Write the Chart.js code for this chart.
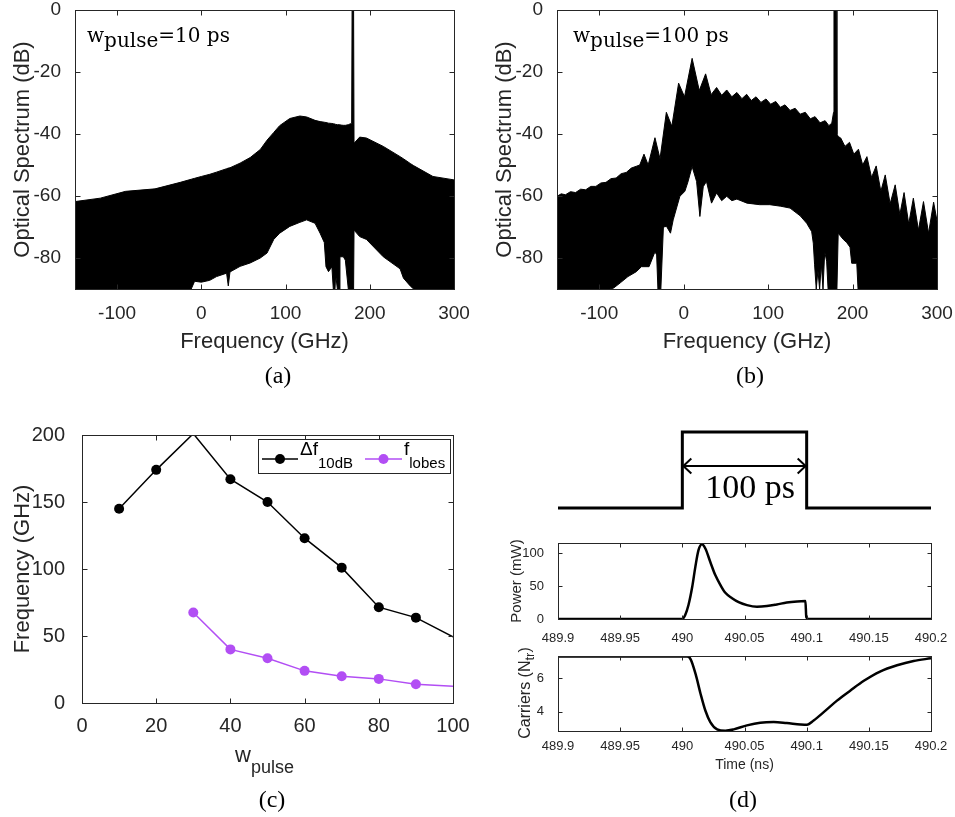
<!DOCTYPE html>
<html>
<head>
<meta charset="utf-8">
<script src="https://cdn.jsdelivr.net/npm/chart.js@4.4.1/dist/chart.umd.min.js"></script>
<style>
  html, body { margin: 0; padding: 0; background: #fff; }
  #page { position: relative; width: 955px; height: 817px; overflow: hidden; }
  #page canvas { position: absolute; left: 0; top: 0; }
  .plabel { position: absolute; font-family: "Liberation Serif", serif; font-size: 24px; line-height: 1; color: #000; transform: translate(-50%, -50%); }
</style>
</head>
<body>
<div id="page">
  <canvas id="chartA" width="955" height="817"></canvas>
  <canvas id="chartB" width="955" height="817"></canvas>
  <canvas id="chartC" width="955" height="817"></canvas>
  <canvas id="chartPulse" width="955" height="817"></canvas>
  <canvas id="chartPower" width="955" height="817"></canvas>
  <canvas id="chartCarriers" width="955" height="817"></canvas>
  <div class="plabel" style="left:278px;top:375px">(a)</div>
  <div class="plabel" style="left:750px;top:375px">(b)</div>
  <div class="plabel" style="left:272px;top:799px">(c)</div>
  <div class="plabel" style="left:743px;top:799px">(d)</div>
</div>
<script>
// ---- (a) spectrum, w_pulse = 10 ps (upper / lower envelope of the dense trace)
const specA_freq = [-150, -120, -90, -55, -25, -12, -8, 0, 10, 18, 30, 32, 34, 46, 58, 70, 78, 86, 93, 105, 117, 125, 135, 141, 146, 148, 151, 155, 156.7, 158.7, 159.5, 161.5, 163.8, 164.6, 168.6, 171, 174.5, 177, 178.5, 179, 180.8, 181.3, 188, 196, 216, 236, 240, 248, 252, 275, 300];
const specA_upper = [-61.8, -60.7, -58.5, -57.7, -55.6, -54.6, -54.3, -53.7, -53, -52.3, -51.2, -51, -50.9, -49.4, -47.6, -45, -42, -39.5, -37.3, -35, -34.2, -34.5, -35.6, -36, -36.2, -36.3, -36.5, -36.6, -36.7, -36.8, -36.9, -37, -37, -37.1, -37.2, -37.2, -37, -36.7, -36.5, 0, 0, -43, -41, -41.3, -44, -47.3, -48, -49.5, -50.2, -53.7, -54.8];
const specA_lower = [-90, -90, -90, -90, -90, -90, -87.5, -87.8, -87.2, -86, -84.9, -89, -84.5, -82.7, -81.6, -80, -78.4, -74, -72, -69.8, -68.5, -67.7, -68.8, -72, -75, -82.8, -84.4, -82.8, -90, -90, -85.3, -90, -90, -79.6, -79.6, -80.7, -90, -90, -90, -90, -90, -71, -73.1, -74, -79.6, -83.5, -86.5, -89, -90, -90, -90];

// ---- (b) spectrum, w_pulse = 100 ps
const specB_freqUp = [-150, -145, -140, -134, -128, -122, -116, -110, -104, -98, -92, -86, -80, -74, -68, -62, -56, -52, -47, -42, -34, -28, -20.5, -14, -6, 1, 10, 18.5, 26, 32.5, 39, 45, 51, 57, 63, 69, 74.6, 80, 85.7, 91.5, 97.5, 103, 109, 114.5, 120, 126, 132, 138, 144, 150, 155.6, 161.5, 167.5, 172, 175.4, 177.5, 178, 180.5, 181.5, 183, 186, 191, 196.4, 201.5, 207, 212, 217, 222.5, 228, 233.5, 238.7, 244.5, 250.5, 256, 261, 266.5, 272, 278, 284, 290, 296, 300];
const specB_upper = [-60.1, -59.3, -59.6, -58.6, -58.9, -57.8, -58, -56.9, -56.9, -55.8, -55.6, -54.4, -54.2, -52.8, -52.4, -51, -50.4, -50, -46.5, -50, -41.2, -48, -33, -37.5, -23.6, -28, -15.6, -26, -20.6, -27.3, -25, -27.5, -25.8, -28, -26.6, -28.6, -27.2, -29.2, -28, -29.8, -28.7, -30.4, -29.5, -31.4, -30.6, -32.4, -31.7, -33.6, -33, -35.1, -34.4, -36.4, -35.7, -37.3, -36.5, -33, 0, 0, -40, -40.8, -41.3, -44, -42.7, -46.5, -44.9, -50, -47.3, -54, -50.3, -58.5, -53.2, -62.5, -56.4, -66, -58.9, -69, -60.7, -71, -61.8, -72, -62, -68];
const specB_freqLo = [-150, -87, -83, -75, -66, -56, -50, -41, -34, -32, -30.5, -27, -24, -20.3, -15.6, -12.4, -4.5, 1.4, 5, 10, 15.3, 19.2, 23.2, 27, 33, 39, 45, 51, 57, 63, 75, 90, 102, 115, 126, 138, 145.7, 151.6, 153.5, 155, 157, 159, 161, 163, 165, 167, 169.3, 171, 177.5, 181.5, 183, 189, 193, 197, 199, 205, 206.5, 210, 300];
const specB_lower = [-90, -90, -89.7, -88, -86, -84.4, -82.8, -82.8, -78, -79, -90, -90, -70, -69.8, -72, -67.7, -60.1, -58.5, -55.5, -50.5, -55.3, -66.6, -57, -55.3, -62.3, -59, -61.5, -60.1, -61.5, -61, -62.3, -62.8, -62.8, -63.3, -63.9, -66.4, -68.8, -71.5, -75.2, -82, -90, -84, -90, -82, -90, -78, -81, -90, -90, -90, -72, -74, -75, -76.5, -81.7, -81.7, -90, -90, -90];

const specFreqTicks = [-100, 0, 100, 200, 300];
const specDbTicks = [-80, -60, -40, -20, 0];

// ---- (c) bandwidth vs pulse width
const wPulse = [10, 20, 30, 40, 50, 60, 70, 80, 90, 100];
const df10dB = [145, 174, 201, 167, 150, 123, 101, 71.5, 63.7, 49.3];
const fLobes = [null, null, 67.5, 40, 33.4, 24, 20, 18, 14, 12.5];
const wTicks = [0, 20, 40, 60, 80, 100];
const freqTicksC = [0, 50, 100, 150, 200];

// ---- (d) pulse, output power and carriers
const pulseTime = [489.9, 490, 490, 490.1, 490.1, 490.2];
const pulseLevel = [0, 0, 1, 1, 0, 0];
const arrowTime = [490, 490.1];
const arrowLevel = [0.553, 0.553];

const timeP = [489.9, 490.0, 490.0024, 490.005, 490.008, 490.0105, 490.013, 490.0158, 490.0185, 490.0225, 490.0265, 490.0306, 490.0346, 490.04, 490.0453, 490.052, 490.06, 490.068, 490.076, 490.084, 490.0923, 490.099, 490.0997, 490.1016, 490.2];
const powerMW = [0, 0, 6.6, 21.7, 49.5, 80, 105, 114, 107.6, 87, 67, 52, 40, 31.8, 25.8, 21.2, 18.7, 19.7, 22.2, 25.2, 26.8, 27.3, 3, 0, 0];

const timeC = [489.9, 490.004, 490.0067, 490.0107, 490.0147, 490.0185, 490.0225, 490.028, 490.0346, 490.0413, 490.052, 490.0627, 490.0735, 490.084, 490.095, 490.1003, 490.1056, 490.1137, 490.1244, 490.135, 490.146, 490.159, 490.1727, 490.186, 490.2];
const carriersNtr = [7.33, 7.33, 7.16, 6.26, 5.06, 4.06, 3.36, 2.92, 2.84, 2.92, 3.16, 3.32, 3.36, 3.3, 3.22, 3.2, 3.46, 3.96, 4.66, 5.26, 5.86, 6.42, 6.8, 7.06, 7.22];

const timeTicks = [489.9, 489.95, 490, 490.05, 490.1, 490.15, 490.2];
const powerTicks = [0, 50, 100];
const carrierTicks = [4, 6];

const SANS = '"Liberation Sans", Arial, sans-serif';
const AXIS = '#262626';
const PURPLE = '#b24ef4';

function pts(xs, ys) {
    return xs.map((x, i) => ({ x: x, y: ys[i] }));
}

// Linear axis with fixed thickness and explicit tick values
function axis(o) {
    return {
        type: 'linear',
        position: o.pos,
        min: o.min,
        max: o.max,
        grid: { display: false },
        border: { display: false },
        afterBuildTicks: s => { s.ticks = o.ticks.map(v => ({ value: v })); },
        afterFit: s => {
            if (o.pos === 'left') s.width = o.size; else s.height = o.size;
            s.paddingLeft = 0; s.paddingRight = 0; s.paddingTop = 0; s.paddingBottom = 0;
        },
        ticks: {
            color: AXIS,
            font: { family: SANS, size: o.fs },
            padding: o.pad,
            autoSkip: false,
            maxRotation: 0,
            minRotation: 0,
            callback: o.fmt || (v => String(v))
        },
        title: o.title
            ? { display: true, text: o.title, color: AXIS, font: { family: SANS, size: o.tfs }, padding: 0 }
            : { display: false }
    };
}

// Draw a run of text pieces (for subscripts)
function drawRich(ctx, item) {
    ctx.save();
    ctx.translate(item.x, item.y);
    if (item.rot) ctx.rotate(item.rot);
    ctx.fillStyle = item.color || '#000';
    ctx.textBaseline = 'alphabetic';
    ctx.textAlign = 'left';
    let total = 0;
    item.parts.forEach(p => { ctx.font = p.font; total += ctx.measureText(p.t).width; });
    let x = item.align === 'center' ? -total / 2 : 0;
    item.parts.forEach(p => {
        ctx.font = p.font;
        ctx.fillText(p.t, x, p.dy || 0);
        x += ctx.measureText(p.t).width;
    });
    ctx.restore();
}

// MATLAB-style box with inward ticks on all four sides
const matBox = {
    id: 'matBox',
    afterDraw(chart, args, opts) {
        if (!opts.on) return;
        const ctx = chart.ctx;
        const a = chart.chartArea;
        const L = Math.round(a.left) + 0.5, T = Math.round(a.top) + 0.5;
        const R = Math.round(a.right) + 0.5, B = Math.round(a.bottom) + 0.5;
        const len = opts.len || 5;
        ctx.save();
        ctx.strokeStyle = AXIS;
        ctx.lineWidth = 1;
        ctx.strokeRect(L, T, R - L, B - T);
        ctx.beginPath();
        const xs = chart.scales.x, ys = chart.scales.y;
        xs.ticks.forEach(t => {
            const p = Math.round(xs.getPixelForValue(t.value)) + 0.5;
            if (p <= L + 1 || p >= R - 1) return;
            ctx.moveTo(p, B); ctx.lineTo(p, B - len);
            ctx.moveTo(p, T); ctx.lineTo(p, T + len);
        });
        ys.ticks.forEach(t => {
            const p = Math.round(ys.getPixelForValue(t.value)) + 0.5;
            if (p <= T + 1 || p >= B - 1) return;
            ctx.moveTo(L, p); ctx.lineTo(L + len, p);
            ctx.moveTo(R, p); ctx.lineTo(R - len, p);
        });
        ctx.stroke();
        ctx.restore();
    }
};

const notes = {
    id: 'notes',
    afterDraw(chart, args, opts) {
        (opts.items || []).forEach(it => drawRich(chart.ctx, it));
    }
};

function spectrumChart(id, upX, upY, loX, loY, area, yTitleX, label) {
    const yW = area.l - (yTitleX - 13.2);
    const xH = 355 - area.b;
    const serif = '20px "DejaVu Serif"';
    return new Chart(document.getElementById(id), {
        type: 'line',
        data: {
            datasets: [
                { data: pts(loX, loY), borderColor: '#000', borderWidth: 1, backgroundColor: '#fff', fill: 'start', pointRadius: 0, tension: 0 },
                { data: pts(upX, upY), borderColor: '#000', borderWidth: 1, backgroundColor: '#000', fill: 'start', pointRadius: 0, tension: 0 }
            ]
        },
        options: {
            responsive: false, animation: false, devicePixelRatio: 1,
            layout: { padding: { left: area.l - yW, top: area.t, right: 955 - area.r, bottom: 817 - area.b - xH } },
            scales: {
                x: axis({ pos: 'bottom', min: -150, max: 300, ticks: specFreqTicks, size: xH, fs: 19, pad: 5, title: 'Frequency (GHz)', tfs: 22 }),
                y: axis({ pos: 'left', min: -90, max: 0, ticks: specDbTicks, size: yW, fs: 19, pad: 6, title: 'Optical Spectrum (dB)', tfs: 22 })
            },
            plugins: {
                legend: { display: false }, tooltip: { enabled: false },
                matBox: { on: true, len: 5 },
                notes: { items: [{ x: label.x, y: 42, parts: [{ t: 'w', font: serif }, { t: 'pulse', font: serif, dy: 5 }, { t: label.t, font: serif }] }] }
            }
        },
        plugins: [matBox, notes]
    });
}

spectrumChart('chartA', specA_freq, specA_upper, specA_freq, specA_lower, { l: 75, t: 10, r: 454, b: 289 }, 23, { x: 87, t: '=10 ps' });
spectrumChart('chartB', specB_freqUp, specB_upper, specB_freqLo, specB_lower, { l: 557, t: 10, r: 937, b: 289 }, 505, { x: 573, t: '=100 ps' });

// ---- (c)
const legendC = {
    id: 'legendC',
    afterDraw(chart, args, o) {
        const ctx = chart.ctx;
        ctx.save();
        ctx.fillStyle = '#fff';
        ctx.fillRect(o.x, o.y, o.w, o.h);
        ctx.strokeStyle = AXIS;
        ctx.lineWidth = 1;
        ctx.strokeRect(o.x + 0.5, o.y + 0.5, o.w, o.h);
        o.entries.forEach((e, i) => {
            const ds = chart.data.datasets[i];
            ctx.strokeStyle = ds.borderColor;
            ctx.lineWidth = ds.borderWidth;
            ctx.beginPath(); ctx.moveTo(e.x0, o.cy); ctx.lineTo(e.x1, o.cy); ctx.stroke();
            ctx.fillStyle = ds.borderColor;
            ctx.beginPath(); ctx.arc((e.x0 + e.x1) / 2, o.cy, 5, 0, Math.PI * 2); ctx.fill();
            drawRich(ctx, { x: e.tx, y: o.base, parts: e.parts, color: '#000' });
        });
        ctx.restore();
    }
};

const areaC = { l: 82, t: 435, r: 453, b: 703 };
const mk = 5;
new Chart(document.getElementById('chartC'), {
    type: 'line',
    data: {
        labels: wPulse,
        datasets: [
            { data: pts(wPulse, df10dB), borderColor: '#000', backgroundColor: '#000', borderWidth: 1.5, pointRadius: [mk, mk, 0, mk, mk, mk, mk, mk, mk, 0], pointBorderWidth: 0, pointBackgroundColor: '#000', clip: 0, tension: 0 },
            { data: pts(wPulse, fLobes), borderColor: PURPLE, backgroundColor: PURPLE, borderWidth: 1.5, pointRadius: [0, 0, mk, mk, mk, mk, mk, mk, mk, 0], pointBorderWidth: 0, pointBackgroundColor: PURPLE, clip: 0, tension: 0 }
        ]
    },
    options: {
        responsive: false, animation: false, devicePixelRatio: 1,
        layout: { padding: { left: 9.8, top: areaC.t, right: 955 - areaC.r, bottom: 817 - areaC.b - 40 } },
        scales: {
            x: axis({ pos: 'bottom', min: 0, max: 100, ticks: wTicks, size: 40, fs: 20, pad: 3, title: null }),
            y: axis({ pos: 'left', min: 0, max: 200, ticks: freqTicksC, size: areaC.l - 9.8, fs: 20, pad: 9, title: 'Frequency (GHz)', tfs: 22 })
        },
        plugins: {
            legend: { display: false }, tooltip: { enabled: false },
            matBox: { on: true, len: 5 },
            notes: { items: [{ x: 235, y: 762, color: AXIS, parts: [{ t: 'w', font: '22px ' + SANS }, { t: 'pulse', font: '18px ' + SANS, dy: 11 }] }] },
            legendC: {
                x: 258, y: 439, w: 192, h: 34, cy: 459, base: 455,
                entries: [
                    { x0: 262, x1: 298, tx: 300, parts: [{ t: '\u0394f', font: '19px ' + SANS }, { t: '10dB', font: '15px ' + SANS, dy: 13 }] },
                    { x0: 365, x1: 402, tx: 404, parts: [{ t: 'f', font: '19px ' + SANS }, { t: 'lobes', font: '15px ' + SANS, dy: 13 }] }
                ]
            }
        }
    },
    plugins: [matBox, notes, legendC]
});

// ---- (d) rectangular pulse sketch
const arrows = {
    id: 'arrows',
    afterDatasetsDraw(chart) {
        const ctx = chart.ctx;
        const ends = chart.getDatasetMeta(1).data;
        const a = ends[0], b = ends[1];
        ctx.save();
        ctx.strokeStyle = '#000';
        ctx.lineWidth = 2;
        ctx.beginPath();
        ctx.moveTo(a.x + 9, a.y - 7.5); ctx.lineTo(a.x + 1, a.y); ctx.lineTo(a.x + 9, a.y + 7.5);
        ctx.moveTo(b.x - 9, b.y - 7.5); ctx.lineTo(b.x - 1, b.y); ctx.lineTo(b.x - 9, b.y + 7.5);
        ctx.stroke();
        ctx.font = '34px "Liberation Serif"';
        ctx.fillStyle = '#000';
        ctx.textAlign = 'center';
        ctx.textBaseline = 'alphabetic';
        ctx.fillText('100 ps', 750, 498);
        ctx.restore();
    }
};

new Chart(document.getElementById('chartPulse'), {
    type: 'line',
    data: {
        datasets: [
            { data: pts(pulseTime, pulseLevel), borderColor: '#000', borderWidth: 3, pointRadius: 0, tension: 0, clip: false },
            { data: pts(arrowTime, arrowLevel), borderColor: '#000', borderWidth: 2, pointRadius: 0, tension: 0, clip: false }
        ]
    },
    options: {
        responsive: false, animation: false, devicePixelRatio: 1,
        layout: { padding: { left: 558, top: 432, right: 24, bottom: 309 } },
        scales: {
            x: { type: 'linear', display: false, min: 489.9, max: 490.2 },
            y: { type: 'linear', display: false, min: 0, max: 1 }
        },
        plugins: { legend: { display: false }, tooltip: { enabled: false } }
    },
    plugins: [arrows]
});

const timeFmt = v => String(+v.toFixed(2));

new Chart(document.getElementById('chartPower'), {
    type: 'line',
    data: {
        datasets: [{ data: pts(timeP, powerMW), borderColor: '#000', borderWidth: 2.5, pointRadius: 0, cubicInterpolationMode: 'monotone' }]
    },
    options: {
        responsive: false, animation: false, devicePixelRatio: 1,
        layout: { padding: { left: 508, top: 543, right: 24, bottom: 817 - 619 - 30 } },
        scales: {
            x: axis({ pos: 'bottom', min: 489.9, max: 490.2, ticks: timeTicks, size: 30, fs: 13, pad: 4, fmt: timeFmt }),
            y: axis({ pos: 'left', min: 0, max: 116, ticks: powerTicks, size: 50, fs: 13, pad: 6, title: 'Power (mW)', tfs: 15 })
        },
        plugins: { legend: { display: false }, tooltip: { enabled: false }, matBox: { on: true, len: 4 } }
    },
    plugins: [matBox]
});

new Chart(document.getElementById('chartCarriers'), {
    type: 'line',
    data: {
        datasets: [{ data: pts(timeC, carriersNtr), borderColor: '#000', borderWidth: 2.5, pointRadius: 0, cubicInterpolationMode: 'monotone' }]
    },
    options: {
        responsive: false, animation: false, devicePixelRatio: 1,
        layout: { padding: { left: 518, top: 656, right: 24, bottom: 817 - 731 - 43 } },
        scales: {
            x: axis({ pos: 'bottom', min: 489.9, max: 490.2, ticks: timeTicks, size: 43, fs: 13, pad: 0, fmt: timeFmt, title: 'Time (ns)', tfs: 14 }),
            y: axis({ pos: 'left', min: 2.82, max: 7.36, ticks: carrierTicks, size: 40, fs: 13, pad: 6 })
        },
        plugins: {
            legend: { display: false }, tooltip: { enabled: false },
            matBox: { on: true, len: 4 },
            notes: { items: [{ x: 530, y: 693, rot: -Math.PI / 2, align: 'center', color: AXIS, parts: [{ t: 'Carriers (N', font: '16px ' + SANS }, { t: 'tr', font: '13px ' + SANS, dy: 4 }, { t: ')', font: '16px ' + SANS }] }] }
        }
    },
    plugins: [matBox, notes]
});
</script>
</body>
</html>
